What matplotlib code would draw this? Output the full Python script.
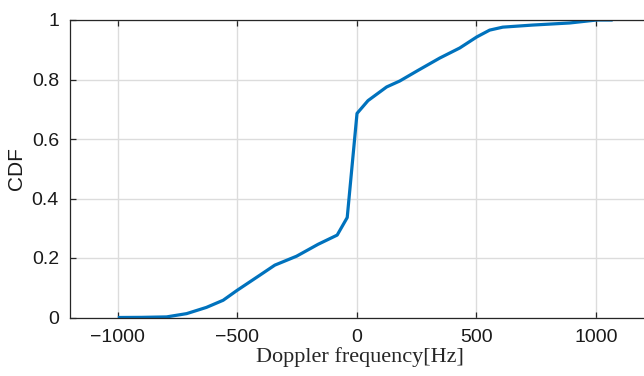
import numpy as np
import matplotlib
matplotlib.use('Agg')
import matplotlib.pyplot as plt

# Doppler frequency [Hz] and CDF
freq = [-1000, -900, -796, -712, -629, -559, -503, -490, -406, -343, -252,
        -162, -82, -40, 1, 47, 125, 180, 255, 347, 431, 502, 556,
        611, 736, 891, 1004, 1071]
cdf = [0.0, 0.0005, 0.002, 0.013, 0.034, 0.058, 0.090, 0.097, 0.142, 0.176,
       0.206, 0.246, 0.277, 0.336, 0.686, 0.729, 0.775, 0.795, 0.830,
       0.872, 0.906, 0.943, 0.966, 0.976, 0.983, 0.990, 1.0, 1.0]

x_ticks = [-1000, -500, 0, 500, 1000]
x_labels = ['\u22121000', '\u2212500', '0', '500', '1000']
y_ticks = [0, 0.2, 0.4, 0.6, 0.8, 1]
y_labels = ['0', '0.2', '0.4', '0.6', '0.8', '1']

plt.rcParams['font.family'] = 'sans-serif'
plt.rcParams['font.sans-serif'] = ['Liberation Sans']

fig = plt.figure(figsize=(6.44, 3.76), dpi=100)
# right spine sits just past the image edge, as in the reference
ax = fig.add_axes([70 / 644, 1 - 317.5 / 376, 580 / 644, 297.5 / 376])

ax.plot(freq, cdf, color='#0072BD', linewidth=2.3, solid_capstyle='butt')

ax.set_xlim(-1200, 1227)
ax.set_ylim(0, 1)
ax.set_xticks(x_ticks)
ax.set_xticklabels(x_labels)
ax.set_yticks(y_ticks)
ax.set_yticklabels(y_labels)

ax.grid(True, color='#dcdcdc', linewidth=1.0)
ax.set_axisbelow(True)
for s in ax.spines.values():
    s.set_color('#262626')
    s.set_linewidth(0.9)
ax.spines['right'].set_visible(False)
ax.tick_params(direction='in', length=4, width=0.9, color='#262626',
               labelsize=14, labelcolor='#1a1a1a', top=True, right=True)
ax.tick_params(axis='x', pad=8)
ax.tick_params(axis='y', pad=8)

ax.set_ylabel('CDF', fontsize=15, color='#1a1a1a', labelpad=4)
ax.set_xlabel('Doppler frequency[Hz]', fontsize=16, family='Liberation Serif',
              color='#262626', labelpad=1)

fig.savefig('out.png', dpi=100)
